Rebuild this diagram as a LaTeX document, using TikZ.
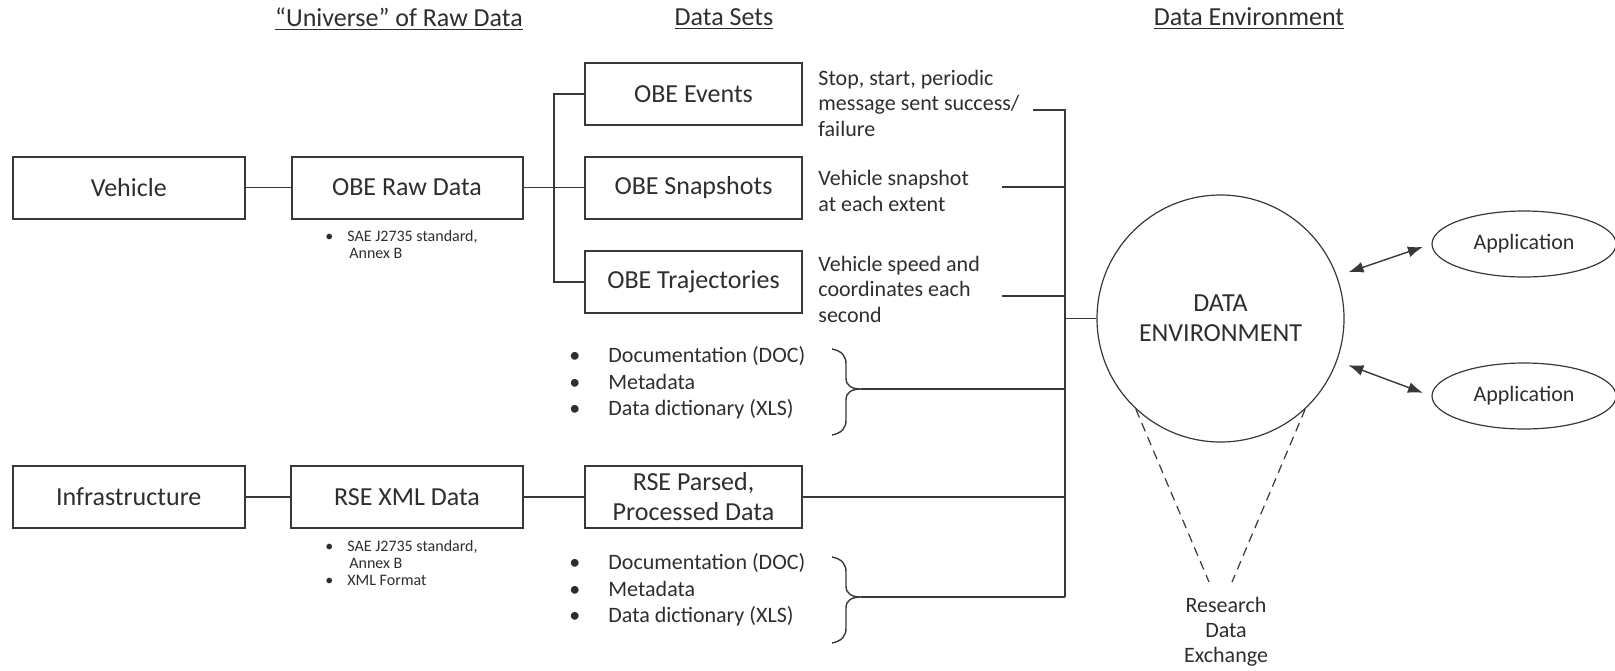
\documentclass[tikz,border=0pt]{standalone}
\usepackage{fontspec}
\setmainfont{Carlito}
\usetikzlibrary{arrows.meta,calc,shapes.geometric}

\definecolor{ink}{HTML}{2E2E2E}
\definecolor{rule}{HTML}{383838}
\newcommand\itemdot[1]{\makebox[#1][l]{\textbullet}}

\tikzset{
  rbrace/.pic={
    \draw[rule,line width=0.7pt]
      (-29,-40) .. controls (-19,-38) and (-15,-33) .. (-15,-25)
      -- (-15,-11) .. controls (-15,-3) and (-9,0) .. (0,0)
      .. controls (-9,0) and (-15,3) .. (-15,11)
      -- (-15,31) .. controls (-15,39) and (-19,44) .. (-29,46);
    \coordinate (-tip) at (0,0);
  }
}

\begin{document}
\begin{tikzpicture}[x=0.5pt,y=-0.5pt,
  every node/.style={text=ink},
  hdr/.style={font=\fontsize{13}{15}\selectfont},
  box/.style={draw=rule,line width=1pt,rectangle,inner sep=0pt,
    minimum width=#1,minimum height=31pt,align=center,
    font=\fontsize{13}{15}\selectfont},
  box/.default=108.5pt,
  desc/.style={anchor=west,align=left,inner sep=0pt,
    font=\fontsize{11}{12.75}\selectfont},
  doclist/.style={anchor=west,align=left,inner sep=0pt,
    font=\fontsize{11}{13.25}\selectfont},
  note/.style={anchor=west,align=left,inner sep=0pt,
    font=\fontsize{8}{8.5}\selectfont},
  wire/.style={draw=rule,line width=0.85pt},
  link/.style={draw=rule,line width=0.7pt,
    {Latex[length=7.5pt,width=5.5pt]}-{Latex[length=7.5pt,width=5.5pt]},
    shorten <=6pt,shorten >=4.5pt},
  rdx/.style={draw=rule,line width=0.6pt,dash pattern=on 4.5pt off 3pt}
]
\useasboundingbox (0,0) rectangle (1615,670);

% column headings
\node[hdr] (h1) at (399,19) {\underline{“Universe” of Raw Data}};
\node[hdr] (h2) at (724,19) {\underline{Data Sets}};
\node[hdr] (h3) at (1249,19) {\underline{Data Environment}};

% sources and raw data
\node[box=116pt] (veh) at (128.75,187.5) {Vehicle};
\node[box=115.5pt] (obr) at (407,187.5) {OBE Raw Data};
\node[box=116pt] (inf) at (128.75,497) {Infrastructure};
\node[box=116pt] (rsx) at (407,497) {RSE XML Data};

% data sets
\node[box] (evt) at (693.5,94) {OBE Events};
\node[box] (snp) at (693.5,187.5) {OBE Snapshots};
\node[box] (trj) at (693.5,282) {OBE Trajectories};
\node[box] (rsp) at (693.5,497) {RSE Parsed,\\Processed Data};

% notes under raw data
\node[note] (obn) at (325,244) {\itemdot{11pt}SAE J2735 standard,\\\hspace*{12pt}Annex B};
\node[note] (rsn) at (325,563) {\itemdot{11pt}SAE J2735 standard,\\\hspace*{12pt}Annex B\\\itemdot{11pt}XML Format};

% data set descriptions
\node[desc] (evd) at (818,103) {Stop, start, periodic\\message sent success/\\failure};
\node[desc] (snd) at (818,191) {Vehicle snapshot\\at each extent};
\node[desc] (trd) at (818,289) {Vehicle speed and\\coordinates each\\second};

% documentation lists with braces
\node[doclist] (doc1) at (569,383) {\itemdot{19.5pt}Documentation (DOC)\\\itemdot{19.5pt}Metadata\\\itemdot{19.5pt}Data dictionary (XLS)};
\node[doclist] (doc2) at (569,590) {\itemdot{19.5pt}Documentation (DOC)\\\itemdot{19.5pt}Metadata\\\itemdot{19.5pt}Data dictionary (XLS)};
\pic (b1) at (861,389) {rbrace};
\pic (b2) at (861,597) {rbrace};

% data environment
\node[circle,draw=rule,line width=0.6pt,minimum size=123.5pt,inner sep=0pt,
  align=center,font=\fontsize{13}{15}\selectfont] (de) at (1220.5,318.5) {DATA\\ENVIRONMENT};
\node[ellipse,draw=rule,line width=0.6pt,minimum width=92pt,minimum height=33pt,
  font=\fontsize{11}{13}\selectfont] (app1) at (1524,244) {Application};
\node[ellipse,draw=rule,line width=0.6pt,minimum width=92pt,minimum height=33pt,
  font=\fontsize{11}{13}\selectfont] (app2) at (1524,396) {Application};
\node[align=center,font=\fontsize{11}{12.5}\selectfont] (rde) at (1226,632) {Research\\Data\\Exchange};

% connectors on the left
\coordinate (fork) at (554,187.5);
\draw[wire] (veh) -- (obr);
\draw[wire] (obr) -- (snp);
\draw[wire] (evt.west) -| (fork) |- (trj.west);
\draw[wire] (inf) -- (rsx);
\draw[wire] (rsx) -- (rsp);

% collecting bus into the data environment
\coordinate (evx) at (1033,110);
\coordinate (snx) at (1002,187);
\coordinate (trx) at (1002,296);
\coordinate (busend) at (1065,597);
\draw[wire] (evx) -| (busend);
\draw[wire] (snx) -- (snx -| busend);
\draw[wire] (trx) -- (trx -| busend);
\draw[wire] (de.west) -- (de.west -| busend);
\draw[wire] (b1-tip) -- (b1-tip -| busend);
\draw[wire] (rsp.east) -- (rsp.east -| busend);
\draw[wire] (b2-tip) -- (busend);

% applications
\draw[link] (de.20) -- (app1.west);
\draw[link] (de.-20) -- (app2.west);

% research data exchange
\coordinate (rdl) at (1209,582);
\coordinate (rdr) at (1232,582);
\draw[rdx] (de.-133) -- (rdl);
\draw[rdx] (de.-47) -- (rdr);
\end{tikzpicture}
\end{document}
